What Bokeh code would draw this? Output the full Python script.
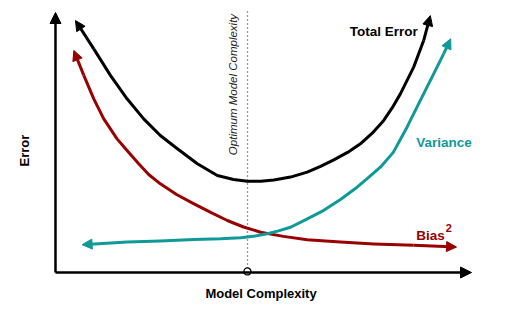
import math
from bokeh.plotting import figure
from bokeh.models import Arrow, NormalHead, Label, Range1d
from bokeh.embed import file_html
from bokeh.resources import INLINE

# ---- data (schematic units: complexity 0..10, error 0..10) ----
total_x = [0.48, 0.92, 1.32, 1.72, 2.12, 2.52, 2.93, 3.41, 3.89, 4.28, 4.61, 4.93, 5.25, 5.65, 6.05, 6.37, 6.69, 7.02, 7.33, 7.62, 7.89, 8.10, 8.29, 8.61, 8.85, 9.01]
total_y = [9.69, 8.60, 7.58, 6.68, 5.91, 5.27, 4.76, 4.18, 3.73, 3.58, 3.51, 3.51, 3.56, 3.67, 3.86, 4.08, 4.33, 4.62, 4.95, 5.37, 5.85, 6.35, 6.87, 7.90, 8.92, 9.88]

bias_x = [0.44, 0.68, 0.92, 1.16, 1.48, 1.72, 2.00, 2.24, 2.52, 2.91, 3.33, 3.73, 4.13, 4.52, 4.93, 5.48, 6.05, 6.85, 7.65, 8.61, 9.64]
bias_y = [8.54, 7.58, 6.68, 5.91, 5.14, 4.69, 4.18, 3.77, 3.41, 3.00, 2.64, 2.31, 2.00, 1.75, 1.55, 1.39, 1.26, 1.17, 1.10, 1.05, 0.98]

var_x = [0.64, 1.72, 2.52, 3.33, 3.97, 4.45, 4.76, 5.09, 5.36, 5.65, 6.03, 6.45, 6.85, 7.25, 7.52, 7.81, 8.12, 8.45, 8.77, 9.09, 9.33, 9.50]
var_y = [1.07, 1.17, 1.21, 1.27, 1.30, 1.34, 1.39, 1.49, 1.60, 1.74, 2.04, 2.39, 2.81, 3.28, 3.65, 4.05, 4.62, 5.59, 6.62, 7.64, 8.41, 8.99]

optimum_x = 4.615
axis_x_max = 10.0
axis_y_max = 10.0

series_labels = ["Total Error", "Variance", "Bias", "2"]
x_label = "Model Complexity"
y_label = "Error"
optimum_label = "Optimum Model Complexity"

BLACK = "#000000"
RED = "#990000"
TEAL = "#109999"
FONT = "Liberation Sans"

# ---- figure: frame covers whole canvas ----
W, H = 526, 309
p = figure(width=W, height=H, output_backend="svg", toolbar_location=None,
           x_axis_location=None, y_axis_location=None, min_border=0,
           x_range=Range1d(-55 / 41.6, (W - 55) / 41.6),
           y_range=Range1d(-(H - 272) / 26.0, 272 / 26.0))
p.outline_line_color = None
p.grid.visible = False
p.background_fill_color = "white"
p.border_fill_color = "white"


def head(c, size=10):
    return NormalHead(size=size, fill_color=c, line_color=c, line_width=1)


def curve(xs, ys, color):
    p.line(xs[1:-1], ys[1:-1], line_color=color, line_width=3, line_join="round")
    p.add_layout(Arrow(end=head(color), x_start=xs[1], y_start=ys[1], x_end=xs[0], y_end=ys[0],
                       line_color=color, line_width=3))
    p.add_layout(Arrow(end=head(color), x_start=xs[-2], y_start=ys[-2], x_end=xs[-1], y_end=ys[-1],
                       line_color=color, line_width=3))


# optimum dotted line
p.segment(x0=[optimum_x], y0=[0], x1=[optimum_x], y1=[10.08], line_color="#333333",
          line_width=1.3, line_dash="1 3")

# axes
p.add_layout(Arrow(end=head(BLACK, 11), x_start=0, y_start=0, x_end=axis_x_max, y_end=0,
                   line_color=BLACK, line_width=2.5))
p.add_layout(Arrow(end=head(BLACK, 11), x_start=0, y_start=0, x_end=0, y_end=axis_y_max,
                   line_color=BLACK, line_width=2.5))

curve(bias_x, bias_y, RED)
curve(var_x, var_y, TEAL)
curve(total_x, total_y, BLACK)

p.scatter([optimum_x], [0.04], size=7, marker="circle", fill_color="white",
          line_color=BLACK, line_width=1.3)

# labels
p.add_layout(Label(x=7.89, y=9.27, text=series_labels[0], text_font=FONT, text_font_style="bold",
                   text_font_size="13.5px", text_color=BLACK, text_align="center", text_baseline="middle"))
p.add_layout(Label(x=9.34, y=5.0, text=series_labels[1], text_font=FONT, text_font_style="bold",
                   text_font_size="13.5px", text_color=TEAL, text_align="center", text_baseline="middle"))
p.add_layout(Label(x=8.67, y=1.42, text=series_labels[2], text_font=FONT, text_font_style="bold",
                   text_font_size="13.5px", text_color=RED, text_align="left", text_baseline="alphabetic"))
p.add_layout(Label(x=9.38, y=1.70, text=series_labels[3], text_font=FONT, text_font_style="bold",
                   text_font_size="11px", text_color=RED, text_align="left", text_baseline="alphabetic"))
p.add_layout(Label(x=4.94, y=-0.79, text=x_label, text_font=FONT, text_font_style="bold",
                   text_font_size="13px", text_color=BLACK, text_align="center", text_baseline="middle"))
p.add_layout(Label(x=-0.745, y=4.69, text=y_label, text_font=FONT, text_font_style="bold",
                   text_font_size="13px", text_color=BLACK, text_align="center", text_baseline="middle",
                   angle=math.pi / 2))
p.add_layout(Label(x=4.255, y=7.23, text=optimum_label, text_font=FONT, text_font_style="italic",
                   text_font_size="11.5px", text_color="#222222", text_align="center", text_baseline="middle",
                   angle=math.pi / 2))

open("out.html", "w").write(file_html(p, INLINE))
